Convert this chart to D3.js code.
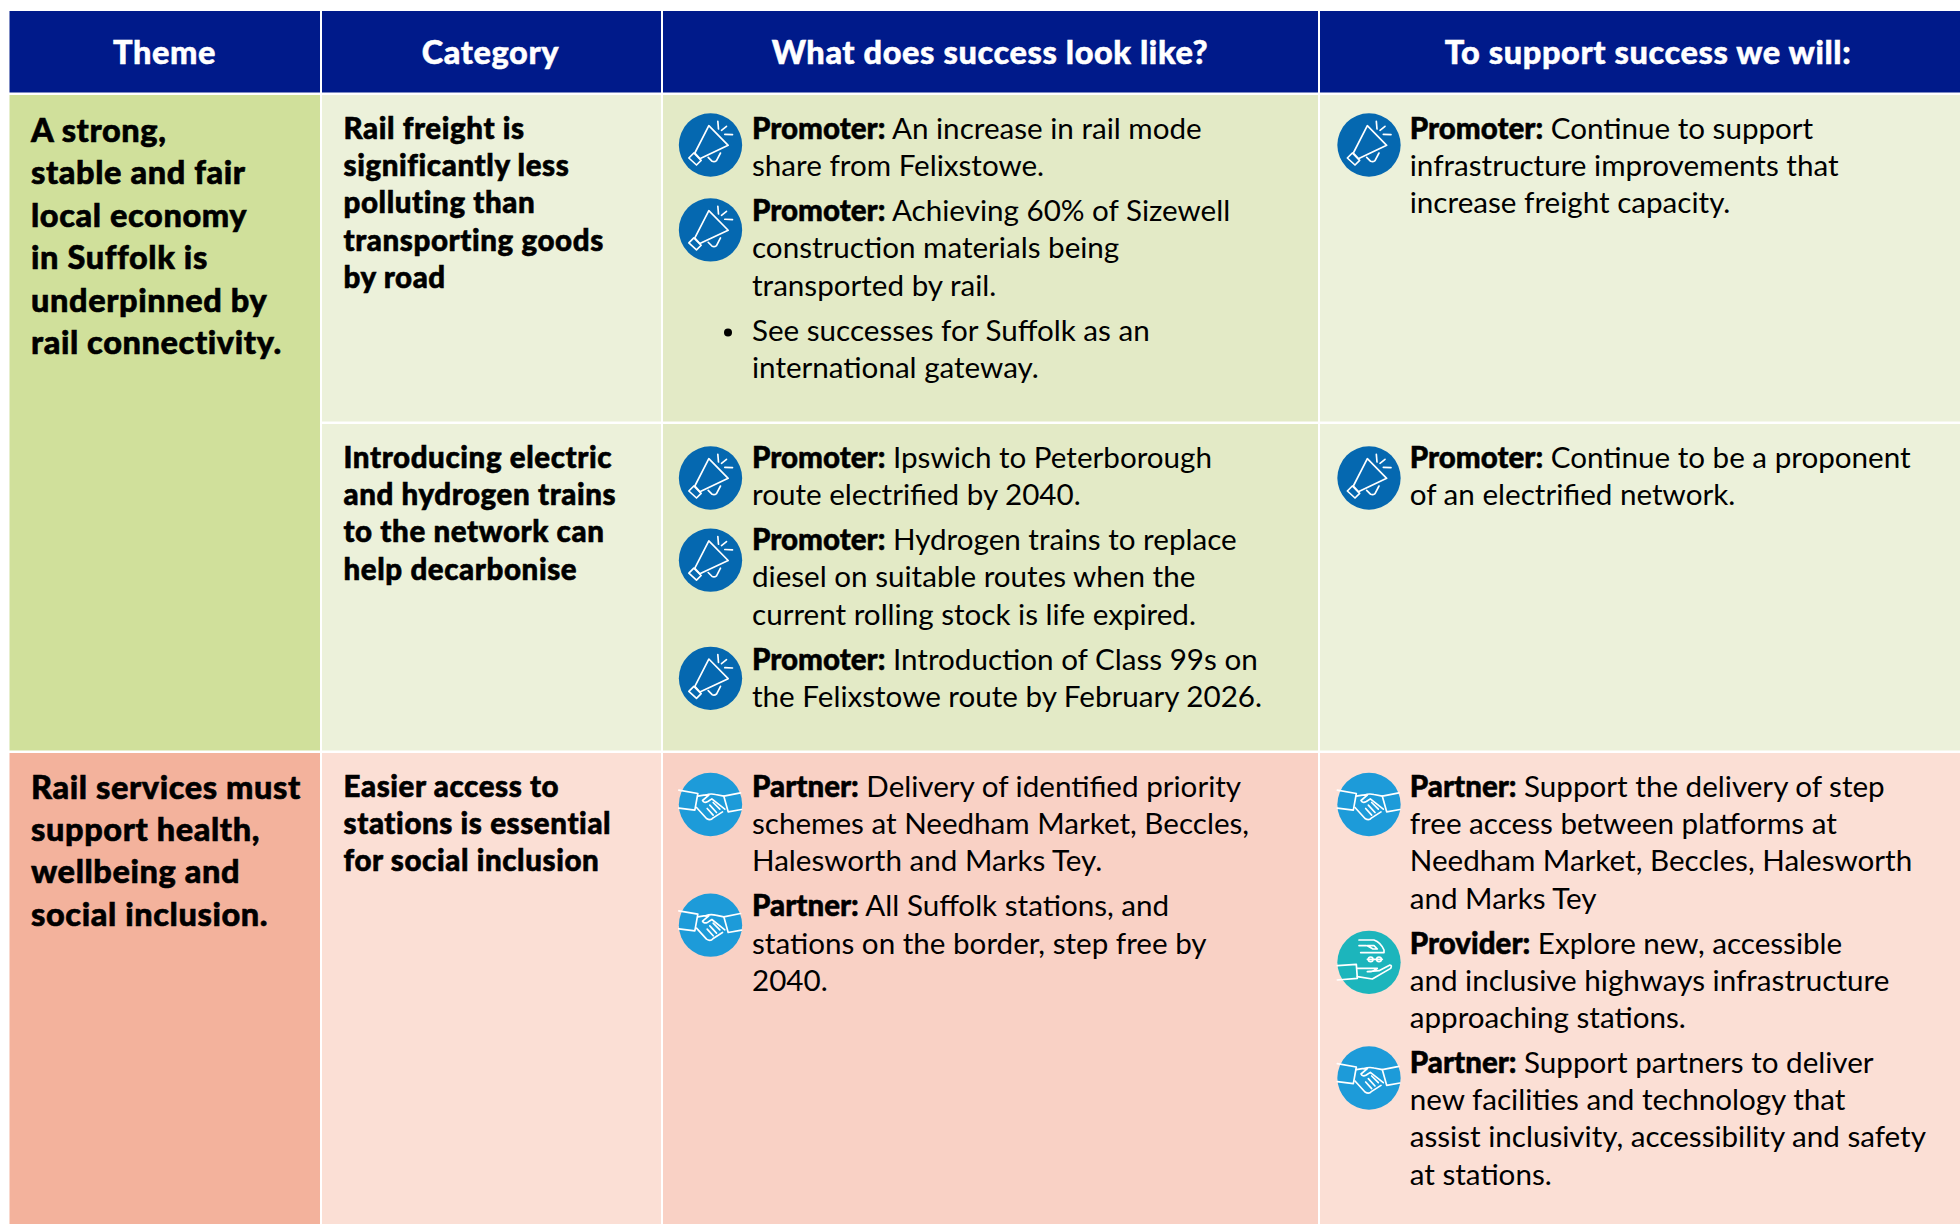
<!DOCTYPE html>
<html>
<head>
<meta charset="utf-8">
<script src="https://cdnjs.cloudflare.com/ajax/libs/d3/7.8.5/d3.min.js"></script>
<style>
 html,body{margin:0;padding:0;background:#fff;}
 svg{display:block;}
 text{font-family:Lato,"Open Sans",sans-serif;fill:#000;}
 .head{fill:#fff;stroke:#fff;stroke-width:.5px;font-weight:900;font-size:32.5px;letter-spacing:.6px;text-anchor:middle;}
 .theme{font-weight:900;font-size:32.5px;letter-spacing:.6px;stroke:#000;stroke-width:.6px;}
 .cat{font-weight:900;font-size:29.5px;letter-spacing:.6px;stroke:#000;stroke-width:.6px;}
 .body{font-size:29.6px;font-weight:400;}
 .body .role{font-weight:900;font-size:29.5px;stroke:#000;stroke-width:.5px;}
</style>
</head>
<body>
<div id="chart"></div>
<script>
// Table content
var headers = ["Theme","Category","What does success look like?","To support success we will:"];
var themes = [
 ["A strong,","stable and fair","local economy","in Suffolk is","underpinned by","rail connectivity."],
 ["Rail services must","support health,","wellbeing and","social inclusion."]
];
var categories = [
 ["Rail freight is","significantly less","polluting than","transporting goods","by road"],
 ["Introducing electric","and hydrogen trains","to the network can","help decarbonise"],
 ["Easier access to","stations is essential","for social inclusion"]
];
// each block: icon, bold role, text lines
var success = [
 [["promoter","Promoter:",["An increase in rail mode","share from Felixstowe."]],
  ["promoter","Promoter:",["Achieving 60% of Sizewell","construction materials being","transported by rail."]],
  ["bullet","",["See successes for Suffolk as an","international gateway."]]],
 [["promoter","Promoter:",["Ipswich to Peterborough","route electrified by 2040."]],
  ["promoter","Promoter:",["Hydrogen trains to replace","diesel on suitable routes when the","current rolling stock is life expired."]],
  ["promoter","Promoter:",["Introduction of Class 99s on","the Felixstowe route by February 2026."]]],
 [["partner","Partner:",["Delivery of identified priority","schemes at Needham Market, Beccles,","Halesworth and Marks Tey."]],
  ["partner","Partner:",["All Suffolk stations, and","stations on the border, step free by","2040."]]]
];
var support = [
 [["promoter","Promoter:",["Continue to support","infrastructure improvements that","increase freight capacity."]]],
 [["promoter","Promoter:",["Continue to be a proponent","of an electrified network."]]],
 [["partner","Partner:",["Support the delivery of step","free access between platforms at","Needham Market, Beccles, Halesworth","and Marks Tey"]],
  ["provider","Provider:",["Explore new, accessible","and inclusive highways infrastructure","approaching stations."]],
  ["partner","Partner:",["Support partners to deliver","new facilities and technology that","assist inclusivity, accessibility and safety","at stations."]]]
];

var W = 1960, H = 1224;
var colEdges = [9.5,322,663,1320,1960];
var headCentre = [164.5,490.5,990,1648];	//last column runs past the right edge of the crop
var rowEdges = [95,424,753,1224];
var rowEnds = [421.5,750.5,1224];
var colGap = 2;
var green = {theme:"#d0e09b",cat:"#ecf1da",mid:"#e3eac6",side:"#ecf1da"};
var orange = {theme:"#f3b29c",cat:"#fbdfd5",mid:"#f9d1c5",side:"#fbdfd5"};
var iconColor = {promoter:"#0568b0",partner:"#1d9bd9",provider:"#1cb5bc"};
var linePitch = 37.2, blockGap = 7.8;
// icons do not sit quite evenly against their text in the original
var iconDrop = {
 "2,0,0":6,"2,0,1":8.75,"2,1,0":10,"2,1,1":10,"2,1,2":8.75,"2,2,0":7.5,"2,2,1":8.75,
 "3,0,0":6,"3,1,0":10,"3,2,0":7.5,"3,2,1":8.75,"3,2,2":5
};

var svg = d3.select("#chart").append("svg").attr("width",W).attr("height",H);
var colX = d3.scaleOrdinal().domain(d3.range(5)).range(colEdges);

// Header
headers.forEach(function(h,i){
 var right = colX(i+1) - (i<3 ? colGap : 0);
 svg.append("rect").attr("x",colX(i)).attr("y",11).attr("width",right-colX(i)).attr("height",81.5).attr("fill","#001a8a");
 svg.append("text").attr("class","head").attr("x",headCentre[i]).attr("y",64).text(h);
});

function cell(x0,x1,y0,y1,col){
 svg.append("rect").attr("x",x0).attr("y",y0).attr("width",x1-x0).attr("height",y1-y0).attr("fill",col);
}
function lines(list,cls,x,y,pitch){
 svg.selectAll(null).data(list).enter().append("text").attr("class",cls)
  .attr("x",x).attr("y",function(d,i){return y+i*pitch;}).text(function(d){return d;});
}

// Coloured cells
cell(colX(0),colX(1)-colGap,rowEdges[0],rowEnds[1],green.theme);
cell(colX(0),colX(1)-colGap,rowEdges[2],H,orange.theme);
[0,1,2].forEach(function(r){
 var c = r<2 ? green : orange;
 cell(colX(1),colX(2)-colGap,rowEdges[r],rowEnds[r],c.cat);
 cell(colX(2),colX(3)-colGap,rowEdges[r],rowEnds[r],c.mid);
 cell(colX(3),W,rowEdges[r],rowEnds[r],c.side);
});

// Theme and category text
lines(themes[0],"theme",31,142,42.4);
lines(themes[1],"theme",31,798.5,42.4);
categories.forEach(function(c,r){ lines(c,"cat",343.5,rowEdges[r]+44,37.2); });

// Icons, drawn around the circle centre in crop pixels (radius 95)
function drawIcon(kind,cx,cy){
 var g = svg.append("g").attr("transform","translate("+cx+","+cy+") scale(0.3333)");
 g.append("circle").attr("r",95).attr("fill",iconColor[kind]);
 var p = g.append("g").attr("fill","none").attr("stroke","#fff").attr("stroke-width",5)
  .attr("stroke-linejoin","round").attr("stroke-linecap","round");
 if(kind=="promoter"){
  p.append("path").attr("d","M-5,-58L53,1L-32,41L-47,24Z");
  p.append("path").attr("d","M-65,39L-50,24L-28,46L-42,60Z");
  p.append("path").attr("d","M-7,37L5,49Q12,52 18,47L30,24");
  p.append("path").attr("d","M22,-71L24,-48M33,-44L48,-56M43,-32L66,-31");
 } else if(kind=="partner"){
  p.append("path").attr("d","M-95,-43L-38,-33L-47,17L-95,11");
  p.append("path").attr("d","M90,-35L40,-25L53,22L93,15");
  p.append("path").attr("d","M-38,-25L-20,-28L-5,-28L-24,-12Q-20,-3 -8,-9L4,-17L43,14");
  p.append("path").attr("d","M40,-25L15,-30Q0,-34 -15,-28");
  p.append("path").attr("d","M-42,9L-12,42Q0,50 8,40L36,22");
  p.append("path").attr("d","M8,-6L28,14M-2,2L18,24M-10,12L8,32");
 } else {
  p.append("path").attr("d","M-30,-67L15,-67Q35,-60 45,-37L45,-29L-25,-29");
  p.append("path").attr("d","M-5,-50L15,-50L25,-40L12,-40Z");
  p.append("path").attr("d","M-30,-50L-8,-50");
  p.append("path").attr("d","M-5,-9L40,-9");
  p.append("circle").attr("cx",5).attr("cy",-9).attr("r",7);
  p.append("circle").attr("cx",30).attr("cy",-9).attr("r",7);
  p.append("path").attr("d","M-95,10L-38,6L-35,48L-95,53");
  p.append("path").attr("d","M-35,18L25,18Q12,30 -5,28L30,25L63,8Q70,8 65,18L10,50L-35,43");
 }
}

// Icon and text blocks, flowed down the cell
function drawBlocks(blocks,col,r){
 var x = colX(col);
 var nudge = col==3 ? 1.5 : 0;		// right hand column sits a little further in
 var y = rowEdges[r] + 44;
 blocks.forEach(function(b,n){
  if(b[0]=="bullet"){
   svg.append("circle").attr("cx",x+65).attr("cy",y-8).attr("r",4).attr("fill","#000");
  } else {
   drawIcon(b[0],x+47.5+nudge,y+iconDrop[col+","+r+","+n]);
  }
  b[2].forEach(function(t,i){
   var tx = svg.append("text").attr("class","body").attr("x",x+89+nudge/2).attr("y",y+i*linePitch);
   if(i==0 && b[1]){
    tx.append("tspan").attr("class","role").text(b[1]);
    tx.append("tspan").text(" "+t);
   } else {
    tx.text(t);
   }
  });
  y += b[2].length*linePitch + blockGap;
 });
}
success.forEach(function(b,r){ drawBlocks(b,2,r); });
support.forEach(function(b,r){ drawBlocks(b,3,r); });
</script>
</body>
</html>
